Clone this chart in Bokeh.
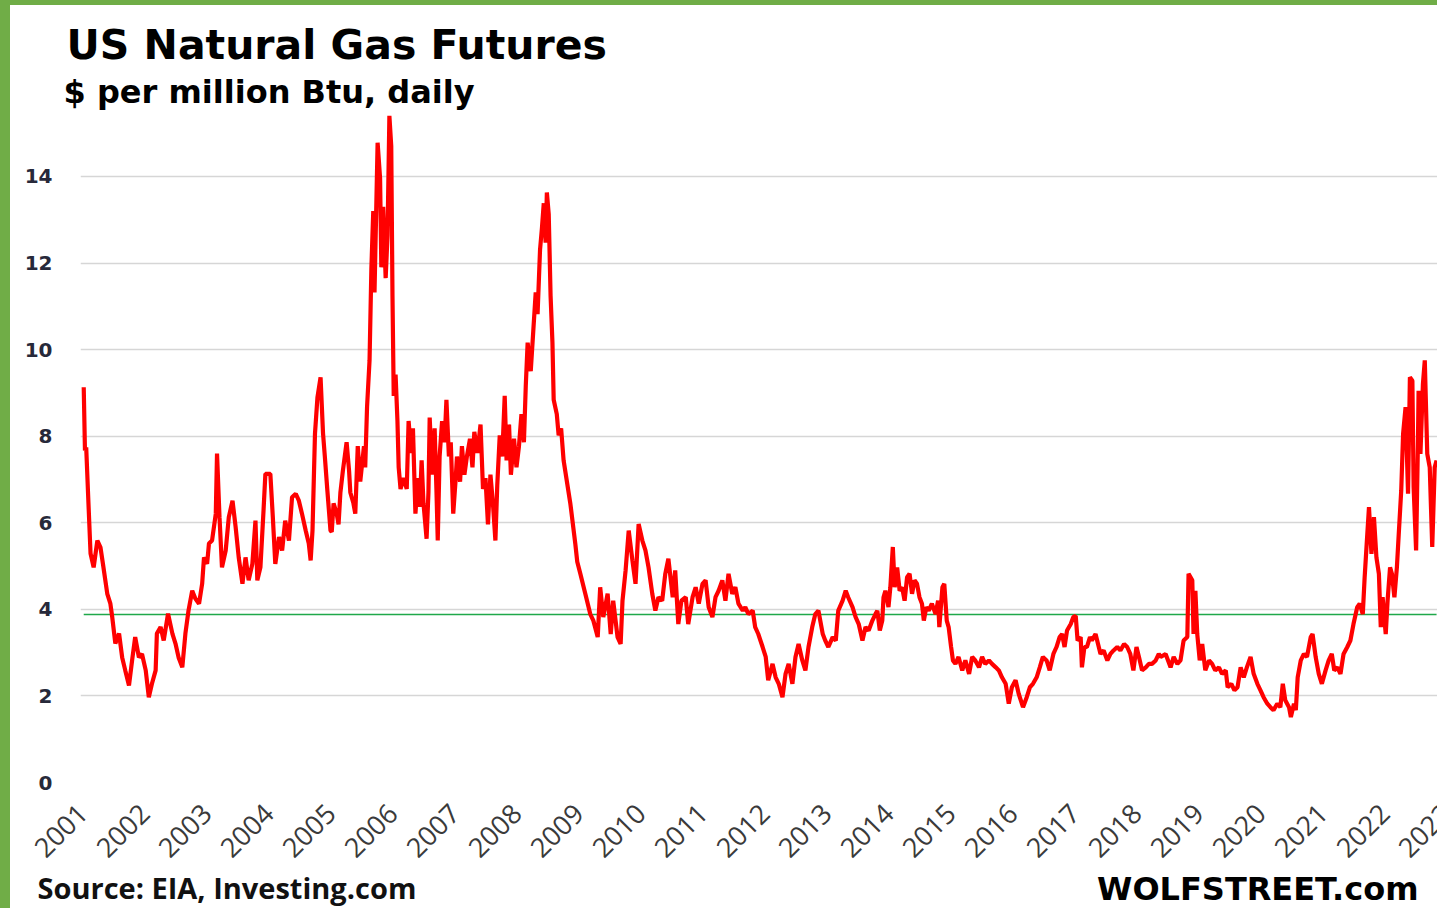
import math
from bokeh.plotting import figure
from bokeh.models import ColumnDataSource, FixedTicker, Div, Range1d, Title, Label
from bokeh.layouts import row, column
from bokeh.embed import file_html
from bokeh.resources import INLINE

# Henry Hub front-month futures, $ per million Btu (decimal year, price)
year_frac = [
    2001.02, 2001.04, 2001.06, 2001.09, 2001.13, 2001.18, 2001.24, 2001.29, 2001.33, 2001.40,
    2001.45, 2001.48, 2001.53, 2001.59, 2001.64, 2001.69, 2001.75, 2001.80, 2001.85, 2001.91,
    2001.96, 2002.02, 2002.07, 2002.12, 2002.18, 2002.20, 2002.26, 2002.31, 2002.38, 2002.45,
    2002.50, 2002.55, 2002.61, 2002.66, 2002.71, 2002.77, 2002.82, 2002.88, 2002.93, 2002.96,
    2003.01, 2003.04, 2003.09, 2003.15, 2003.17, 2003.21, 2003.25, 2003.31, 2003.36, 2003.42,
    2003.47, 2003.52, 2003.58, 2003.63, 2003.68, 2003.74, 2003.79, 2003.82, 2003.87, 2003.92,
    2003.95, 2004.03, 2004.07, 2004.11, 2004.17, 2004.22, 2004.27, 2004.33, 2004.38, 2004.44,
    2004.49, 2004.54, 2004.60, 2004.65, 2004.68, 2004.71, 2004.75, 2004.79, 2004.84, 2004.88,
    2004.91, 2004.95, 2005.00, 2005.02, 2005.05, 2005.10, 2005.13, 2005.16, 2005.20, 2005.26,
    2005.30, 2005.32, 2005.37, 2005.40, 2005.44, 2005.48, 2005.54, 2005.56, 2005.59, 2005.63,
    2005.66, 2005.69, 2005.71, 2005.76, 2005.80, 2005.82, 2005.85, 2005.89, 2005.92, 2005.95,
    2005.98, 2006.00, 2006.02, 2006.05, 2006.08, 2006.10, 2006.13, 2006.18, 2006.23, 2006.26,
    2006.30, 2006.33, 2006.37, 2006.41, 2006.44, 2006.47, 2006.50, 2006.55, 2006.58, 2006.60,
    2006.64, 2006.68, 2006.71, 2006.73, 2006.76, 2006.80, 2006.84, 2006.87, 2006.91, 2006.94,
    2006.98, 2007.02, 2007.04, 2007.09, 2007.12, 2007.16, 2007.20, 2007.25, 2007.29, 2007.32,
    2007.37, 2007.42, 2007.46, 2007.50, 2007.54, 2007.58, 2007.62, 2007.66, 2007.69, 2007.73,
    2007.77, 2007.81, 2007.84, 2007.88, 2007.91, 2007.96, 2008.00, 2008.04, 2008.08, 2008.12,
    2008.15, 2008.18, 2008.23, 2008.27, 2008.31, 2008.34, 2008.38, 2008.41, 2008.44, 2008.47,
    2008.49, 2008.52, 2008.55, 2008.58, 2008.60, 2008.65, 2008.68, 2008.72, 2008.76, 2008.87,
    2008.95, 2008.98, 2009.03, 2009.11, 2009.19, 2009.24, 2009.31, 2009.35, 2009.40, 2009.47,
    2009.52, 2009.56, 2009.63, 2009.68, 2009.71, 2009.76, 2009.81, 2009.87, 2009.92, 2009.97,
    2010.03, 2010.08, 2010.13, 2010.19, 2010.24, 2010.29, 2010.35, 2010.40, 2010.45, 2010.52,
    2010.56, 2010.61, 2010.66, 2010.73, 2010.77, 2010.84, 2010.89, 2010.94, 2011.00, 2011.05,
    2011.10, 2011.16, 2011.21, 2011.26, 2011.32, 2011.37, 2011.42, 2011.48, 2011.53, 2011.58,
    2011.65, 2011.69, 2011.74, 2011.81, 2011.85, 2011.90, 2011.97, 2012.02, 2012.06, 2012.13,
    2012.18, 2012.23, 2012.29, 2012.34, 2012.39, 2012.45, 2012.50, 2012.55, 2012.61, 2012.66,
    2012.71, 2012.77, 2012.82, 2012.87, 2012.94, 2012.98, 2013.03, 2013.10, 2013.15, 2013.19,
    2013.26, 2013.31, 2013.35, 2013.42, 2013.47, 2013.52, 2013.58, 2013.63, 2013.68, 2013.74,
    2013.79, 2013.82, 2013.86, 2013.90, 2013.92, 2013.95, 2014.00, 2014.03, 2014.07, 2014.10,
    2014.14, 2014.18, 2014.22, 2014.26, 2014.30, 2014.34, 2014.38, 2014.42, 2014.46, 2014.50,
    2014.54, 2014.57, 2014.61, 2014.65, 2014.70, 2014.76, 2014.80, 2014.82, 2014.87, 2014.90,
    2014.94, 2014.97, 2015.01, 2015.04, 2015.08, 2015.13, 2015.19, 2015.24, 2015.30, 2015.35,
    2015.40, 2015.46, 2015.51, 2015.56, 2015.62, 2015.67, 2015.73, 2015.78, 2015.83, 2015.89,
    2015.94, 2015.99, 2016.05, 2016.10, 2016.17, 2016.23, 2016.28, 2016.33, 2016.39, 2016.44,
    2016.49, 2016.55, 2016.60, 2016.66, 2016.71, 2016.76, 2016.80, 2016.84, 2016.88, 2016.94,
    2016.98, 2017.02, 2017.05, 2017.10, 2017.12, 2017.16, 2017.20, 2017.25, 2017.28, 2017.34,
    2017.38, 2017.42, 2017.47, 2017.53, 2017.58, 2017.63, 2017.69, 2017.74, 2017.80, 2017.85,
    2017.90, 2017.95, 2018.00, 2018.04, 2018.09, 2018.15, 2018.20, 2018.25, 2018.31, 2018.36,
    2018.39, 2018.47, 2018.55, 2018.60, 2018.66, 2018.71, 2018.76, 2018.82, 2018.84, 2018.90,
    2018.92, 2018.95, 2018.98, 2019.02, 2019.06, 2019.11, 2019.17, 2019.22, 2019.27, 2019.33,
    2019.38, 2019.44, 2019.47, 2019.53, 2019.58, 2019.63, 2019.68, 2019.73, 2019.78, 2019.84,
    2019.89, 2019.95, 2020.00, 2020.05, 2020.11, 2020.16, 2020.21, 2020.27, 2020.32, 2020.36,
    2020.40, 2020.46, 2020.49, 2020.54, 2020.57, 2020.60, 2020.65, 2020.70, 2020.75, 2020.81,
    2020.84, 2020.89, 2020.94, 2020.99, 2021.05, 2021.10, 2021.15, 2021.19, 2021.24, 2021.29,
    2021.34, 2021.40, 2021.45, 2021.50, 2021.56, 2021.60, 2021.65, 2021.68, 2021.71, 2021.75,
    2021.79, 2021.83, 2021.87, 2021.91, 2021.94, 2021.97, 2022.02, 2022.05, 2022.09, 2022.12,
    2022.16, 2022.20, 2022.23, 2022.27, 2022.30, 2022.34, 2022.38, 2022.41, 2022.45, 2022.47,
    2022.51, 2022.54, 2022.55, 2022.58, 2022.62, 2022.65, 2022.69, 2022.73, 2022.77, 2022.81,
    2022.84,
]

price = [
    9.13, 7.67, 7.74, 6.67, 5.29, 4.97, 5.59, 5.43, 5.05, 4.36,
    4.13, 3.82, 3.21, 3.44, 2.89, 2.59, 2.24, 2.82, 3.36, 2.89,
    2.97, 2.59, 1.97, 2.28, 2.59, 3.44, 3.59, 3.28, 3.90, 3.44,
    3.21, 2.89, 2.66, 3.44, 3.97, 4.43, 4.25, 4.13, 4.59, 5.20,
    5.05, 5.52, 5.59, 6.21, 7.60, 6.13, 4.97, 5.36, 6.13, 6.51,
    5.90, 5.20, 4.59, 5.20, 4.67, 5.05, 6.05, 4.67, 4.97, 6.28,
    7.13, 7.13, 6.13, 5.05, 5.67, 5.36, 6.05, 5.59, 6.59, 6.67,
    6.51, 6.21, 5.82, 5.52, 5.13, 5.82, 8.06, 8.90, 9.36, 8.06,
    7.51, 6.74, 5.82, 5.79, 6.45, 6.21, 5.96, 6.70, 7.20, 7.86,
    7.20, 6.70, 6.45, 6.21, 7.77, 6.95, 7.77, 7.28, 8.68, 9.75,
    11.90, 13.20, 11.32, 14.78, 13.96, 11.90, 13.30, 11.65, 12.64, 15.40,
    14.70, 11.24, 8.93, 9.42, 8.35, 7.28, 6.78, 7.03, 6.78, 8.35,
    7.61, 8.18, 6.21, 7.03, 6.37, 7.44, 6.45, 5.63, 6.70, 8.43,
    7.11, 8.18, 6.70, 5.59, 7.53, 8.35, 7.86, 8.84, 7.53, 7.86,
    6.21, 7.03, 7.53, 6.95, 7.77, 7.11, 7.53, 7.94, 7.28, 8.10,
    7.61, 8.27, 6.78, 7.03, 5.96, 7.11, 6.45, 5.59, 6.87, 8.02,
    7.53, 8.93, 7.44, 8.27, 7.11, 7.94, 7.28, 7.77, 8.51, 7.86,
    9.17, 10.16, 9.50, 10.41, 11.32, 10.82, 12.31, 12.80, 13.38, 12.47,
    13.63, 13.13, 11.24, 10.16, 8.84, 8.51, 8.02, 8.18, 7.44, 6.43,
    5.50, 5.10, 4.82, 4.36, 3.89, 3.74, 3.36, 4.51, 3.82, 4.36,
    3.43, 4.20, 3.36, 3.20, 4.20, 4.90, 5.82, 5.13, 4.59, 5.97,
    5.59, 5.36, 4.97, 4.36, 3.97, 4.28, 4.20, 4.82, 5.17, 4.28,
    4.90, 3.66, 4.20, 4.28, 3.66, 4.28, 4.51, 4.13, 4.59, 4.67,
    4.05, 3.82, 4.28, 4.43, 4.67, 4.20, 4.82, 4.36, 4.51, 4.13,
    3.97, 4.05, 3.89, 3.97, 3.59, 3.43, 3.13, 2.90, 2.36, 2.74,
    2.43, 2.28, 1.97, 2.51, 2.74, 2.28, 2.90, 3.20, 2.82, 2.59,
    3.13, 3.59, 3.89, 3.97, 3.43, 3.28, 3.13, 3.36, 3.28, 3.97,
    4.20, 4.43, 4.28, 4.05, 3.82, 3.66, 3.28, 3.59, 3.51, 3.74,
    3.89, 3.97, 3.51, 3.74, 4.28, 4.43, 4.05, 4.51, 5.44, 4.51,
    4.97, 4.43, 4.51, 4.20, 4.74, 4.82, 4.36, 4.67, 4.59, 4.28,
    4.13, 3.74, 4.05, 3.97, 4.13, 3.89, 4.20, 3.59, 4.51, 4.59,
    3.74, 3.59, 3.13, 2.82, 2.74, 2.90, 2.59, 2.82, 2.51, 2.90,
    2.82, 2.66, 2.90, 2.74, 2.82, 2.74, 2.66, 2.59, 2.43, 2.28,
    1.82, 2.20, 2.36, 2.05, 1.74, 1.97, 2.20, 2.28, 2.43, 2.66,
    2.90, 2.82, 2.59, 2.97, 3.13, 3.36, 3.43, 3.13, 3.51, 3.66,
    3.82, 3.85, 3.28, 3.36, 2.66, 3.13, 3.13, 3.36, 3.28, 3.43,
    3.20, 2.97, 3.05, 2.82, 2.97, 3.05, 3.13, 3.05, 3.20, 3.13,
    2.97, 2.59, 3.13, 2.90, 2.59, 2.66, 2.74, 2.74, 2.82, 2.97,
    2.90, 2.97, 2.66, 2.90, 2.74, 2.82, 3.28, 3.36, 4.82, 4.67,
    3.43, 4.43, 3.43, 2.82, 3.20, 2.59, 2.82, 2.74, 2.59, 2.66,
    2.51, 2.59, 2.20, 2.28, 2.13, 2.20, 2.66, 2.43, 2.66, 2.90,
    2.51, 2.28, 2.13, 1.97, 1.82, 1.74, 1.67, 1.82, 1.74, 2.28,
    1.90, 1.74, 1.51, 1.82, 1.67, 2.43, 2.82, 2.97, 2.90, 3.36,
    3.43, 2.90, 2.51, 2.28, 2.59, 2.82, 2.97, 2.59, 2.66, 2.51,
    2.97, 3.13, 3.28, 3.66, 4.05, 4.13, 3.89, 4.74, 5.44, 6.36,
    5.28, 6.13, 5.20, 4.82, 3.59, 4.28, 3.43, 4.20, 4.97, 4.82,
    4.28, 4.97, 5.74, 6.74, 8.05, 8.67, 6.67, 9.36, 9.28, 6.82,
    5.36, 7.90, 9.05, 7.59, 9.21, 9.75, 7.59, 7.28, 5.44, 7.28,
    7.44,
]

reference_level = 3.88
year_ticks = list(range(2001, 2024))
y_ticks = [0, 2, 4, 6, 8, 10, 12, 14]

title_text = "US Natural Gas Futures"
subtitle_text = "$ per million Btu, daily"
source_text = "Source: EIA, Investing.com"
brand_text = "WOLFSTREET.com"

BORDER_GREEN = "#70AD47"
PAGE_H = 908
BAR_L, BAR_T = 10, 5
PX_PER_YEAR = 62.0
FRAME_RIGHT = 1470       # plot area runs a little past the right edge of the page
RIGHT = 400              # side panel holding the site name
MAIN_W = FRAME_RIGHT + RIGHT
MAIN_H = PAGE_H - BAR_T
LEFT = 70

x_start = 2000.968
x_end = x_start + (FRAME_RIGHT - LEFT) / PX_PER_YEAR

p = figure(
    width=MAIN_W, height=MAIN_H,
    output_backend="svg", toolbar_location=None,
    x_range=Range1d(x_start, x_end),
    y_range=Range1d(0, 15.50),
    min_border_left=LEFT, min_border_right=RIGHT,
    min_border_top=106, min_border_bottom=MAIN_H - 777,
    background_fill_color="white", border_fill_color="white",
)
p.outline_line_color = None

# grid
p.xgrid.grid_line_color = None
p.ygrid.grid_line_color = "#D6D6D6"
p.ygrid.grid_line_width = 1.6

# y axis
p.yaxis.ticker = FixedTicker(ticks=y_ticks)
p.yaxis.axis_line_color = None
p.yaxis.major_tick_line_color = None
p.yaxis.minor_tick_line_color = None
p.yaxis.major_tick_in = 0
p.yaxis.major_tick_out = 0
p.yaxis.major_label_standoff = 28
p.yaxis.major_label_text_font = "DejaVu Sans"
p.yaxis.major_label_text_font_style = "bold"
p.yaxis.major_label_text_font_size = "20px"
p.yaxis.major_label_text_color = "#27293A"

# x axis: one label per calendar year
p.xaxis.ticker = FixedTicker(ticks=year_ticks)
p.xaxis.major_label_overrides = {y: str(y) for y in year_ticks}
p.xaxis.axis_line_color = None
p.xaxis.major_tick_line_color = None
p.xaxis.minor_tick_line_color = None
p.xaxis.major_tick_in = 0
p.xaxis.major_tick_out = 0
p.xaxis.major_label_orientation = math.pi / 4
p.xaxis.major_label_standoff = 26
p.xaxis.major_label_text_font = "Open Sans"
p.xaxis.major_label_text_font_size = "27px"
p.xaxis.major_label_text_color = "#3A3A3A"

src = ColumnDataSource(data=dict(t=year_frac, v=price))
p.line([year_frac[0], year_frac[-1]], [reference_level, reference_level],
       line_color="#1FA84A", line_width=1.6)
p.line("t", "v", source=src, line_color="#FF0000", line_width=4.2)

# headings above the plot
p.add_layout(Title(text=subtitle_text, align="left", offset=-17, standoff=2,
                   text_font="DejaVu Sans", text_font_style="bold",
                   text_font_size="32px", text_color="#000000"), "above")
p.add_layout(Title(text=title_text, align="left", offset=-14, standoff=2,
                   text_font="DejaVu Sans", text_font_style="bold",
                   text_font_size="41px", text_color="#000000"), "above")

# footer: source under the axis, site name on the same line at the right
p.add_layout(Title(text=source_text, align="left", offset=-43, standoff=-7,
                   text_font="Open Sans", text_font_style="bold",
                   text_font_size="29px", text_color="#111111"), "below")
p.add_layout(Label(x=-62, y=-106, x_units="screen", y_units="screen",
                   text=brand_text, text_align="right",
                   text_baseline="alphabetic",
                   text_font="DejaVu Sans", text_font_style="bold",
                   text_font_size="32px", text_color="#000000"), "right")

left_bar = Div(width=BAR_L, height=PAGE_H, margin=0,
               styles={"background-color": BORDER_GREEN})
top_bar = Div(width=MAIN_W, height=BAR_T, margin=0,
              styles={"background-color": BORDER_GREEN})
page = row(left_bar, column(top_bar, p, spacing=0), spacing=0)

open("out.html", "w").write(file_html(page, INLINE))
